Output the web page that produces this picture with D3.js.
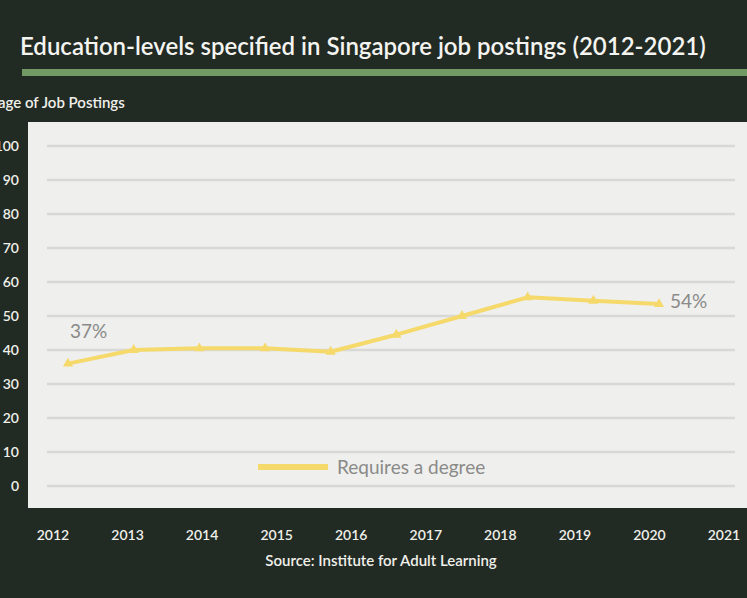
<!DOCTYPE html>
<html><head><meta charset="utf-8">
<script src="https://cdn.jsdelivr.net/npm/d3@7"></script>
<style>body{margin:0;background:#232b25;overflow:hidden}</style>
</head><body>
<svg id="c" width="747" height="598"></svg>
<script>
const axisYears = ["2012","2013","2014","2015","2016","2017","2018","2019","2020","2021"];
const degree = [36, 40, 40.5, 40.5, 39.5, 44.5, 50, 55.5, 54.5, 53.5];
const yTicks = [0,10,20,30,40,50,60,70,80,90,100];
const pointIdx = d3.range(degree.length);

const svg = d3.select("#c");
const font = "Lato, 'Open Sans', sans-serif";

svg.append("rect").attr("width",747).attr("height",598).attr("fill","#222a24");

// title + chalk underline
svg.append("text").attr("x",20).attr("y",55).attr("fill","#f4f4f0")
  .attr("font-family",font).attr("font-size",24).attr("font-weight",600)
  .text("Education-levels specified in Singapore job postings (2012-2021)");
svg.append("rect").attr("x",22).attr("y",69).attr("width",725).attr("height",7)
  .attr("fill","#8fbf7a").attr("opacity",0.75);

svg.append("text").attr("x",-2).attr("y",108).attr("fill","#f0f0ea")
  .attr("font-family",font).attr("font-size",15).attr("font-weight",600)
  .text("age of Job Postings");

// panel
svg.append("rect").attr("x",28).attr("y",122).attr("width",730).attr("height",386)
  .attr("fill","#efefee");

const y = d3.scaleLinear().domain([0,100]).range([486,146]);
const xp = d3.scalePoint().domain(pointIdx).range([68,659]);
const xl = d3.scalePoint().domain(axisYears).range([53,724]);

svg.append("g").selectAll("line").data(yTicks).join("line")
  .attr("x1",47).attr("x2",735).attr("y1",d=>y(d)).attr("y2",d=>y(d))
  .attr("stroke","#d8d8d6").attr("stroke-width",2.5);

svg.append("g").selectAll("text").data(yTicks).join("text")
  .attr("x",19).attr("y",d=>y(d)+5).attr("text-anchor","end")
  .attr("fill","#f0f0ea").attr("font-family",font).attr("font-size",14).attr("font-weight",600)
  .text(d=>d);

svg.append("g").selectAll("text").data(axisYears).join("text")
  .attr("x",d=>xl(d)).attr("y",540).attr("text-anchor","middle")
  .attr("fill","#f0f0ea").attr("font-family",font).attr("font-size",14).attr("font-weight",600)
  .text(d=>d);

const line = d3.line().x((d,i)=>xp(i)).y(d=>y(d));
svg.append("path").datum(degree).attr("d",line).attr("fill","none")
  .attr("stroke","#f5d96b").attr("stroke-width",4).attr("stroke-linejoin","round");
svg.append("g").selectAll("path").data(degree).join("path")
  .attr("transform",(d,i)=>`translate(${xp(i)},${y(d)})`)
  .attr("d",d3.symbol(d3.symbolTriangle,45)).attr("fill","#f5d96b");

svg.append("text").attr("x",70).attr("y",338).attr("fill","#8a8a88")
  .attr("font-family",font).attr("font-size",19).text("37%");
svg.append("text").attr("x",670).attr("y",308).attr("fill","#8a8a88")
  .attr("font-family",font).attr("font-size",19).text("54%");

// legend
svg.append("line").attr("x1",258).attr("x2",328).attr("y1",467).attr("y2",467)
  .attr("stroke","#f5d96b").attr("stroke-width",6);
svg.append("text").attr("x",337).attr("y",474).attr("fill","#8a8a88")
  .attr("font-family",font).attr("font-size",19).text("Requires a degree");

svg.append("text").attr("x",381).attr("y",566).attr("text-anchor","middle").attr("fill","#f0f0ea")
  .attr("font-family",font).attr("font-size",15).attr("font-weight",600)
  .text("Source: Institute for Adult Learning");
</script>
</body></html>
